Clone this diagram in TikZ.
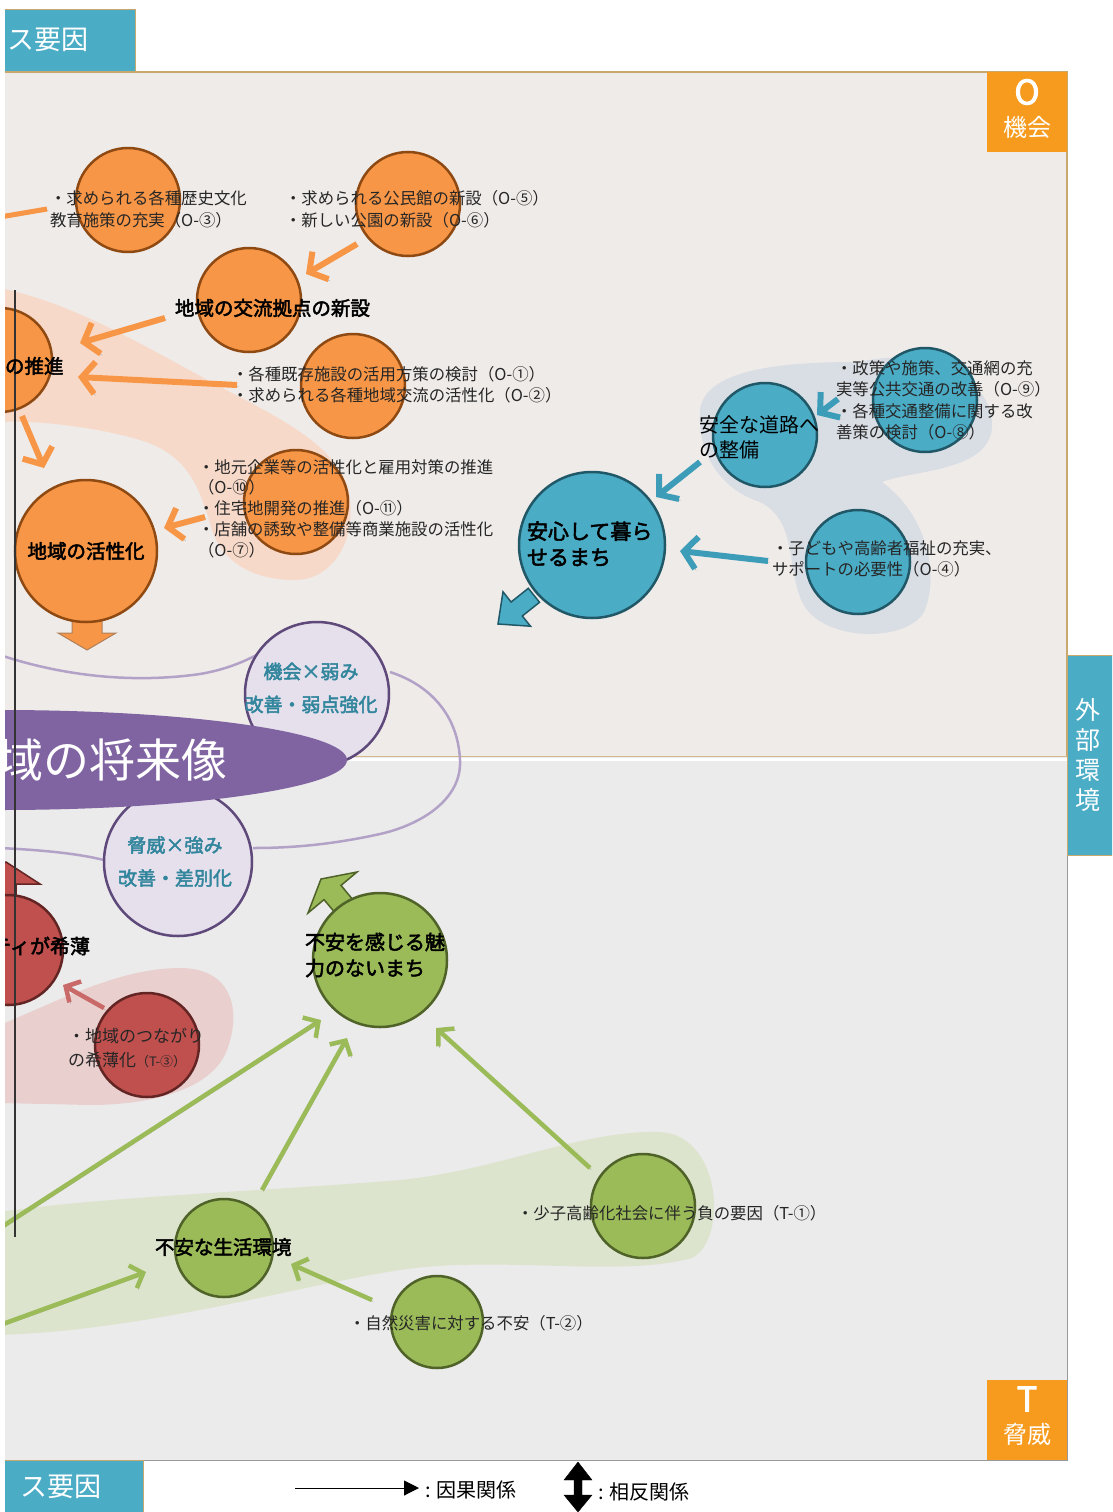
\documentclass[tikz,border=0pt]{standalone}
\usepackage{fontspec}
\setmainfont{Noto Sans CJK JP}[AutoFakeBold=2.5]
\usetikzlibrary{arrows.meta}
\definecolor{orF}{HTML}{F79646}
\definecolor{orD}{HTML}{8E4A12}
\definecolor{tlF}{HTML}{4BACC6}
\definecolor{tlD}{HTML}{205867}
\definecolor{tlA}{HTML}{3D9DB8}
\definecolor{grF}{HTML}{9BBB59}
\definecolor{grD}{HTML}{4F6228}
\definecolor{rdF}{HTML}{C0504D}
\definecolor{rdD}{HTML}{632523}
\definecolor{lavF}{HTML}{E5E0EC}
\definecolor{lavD}{HTML}{5F497A}
\definecolor{lavL}{HTML}{B3A2C7}
\definecolor{lavT}{HTML}{31859C}
\definecolor{purF}{HTML}{8064A2}
\definecolor{panU}{HTML}{EFEBE9}
\definecolor{panL}{HTML}{EBEBEB}
\definecolor{boxO}{HTML}{F79B1E}
\definecolor{tanC}{HTML}{C9A86E}
\definecolor{blobO}{HTML}{F7D9C9}
\definecolor{blobG}{HTML}{D9DDE4}
\definecolor{blobR}{HTML}{E9D0CF}
\definecolor{blobGr}{HTML}{DCE4CD}
\definecolor{txtC}{HTML}{262626}
\begin{document}
\begin{tikzpicture}[x=1pt,y=-1pt,
  every node/.style={inner sep=0pt, outer sep=0pt},
  circ/.style={circle, minimum size=#1, line width=2.5pt},
  ocirc/.style={circ=#1, fill=orF, draw=orD},
  tcirc/.style={circ=#1, fill=tlF, draw=tlD},
  gcirc/.style={circ=#1, fill=grF, draw=grD},
  rcirc/.style={circ=#1, fill=rdF, draw=rdD},
  lcirc/.style={circ=#1, fill=lavF, draw=lavD},
  txt/.style={anchor=west, align=left, font=\fontsize{16.4}{21.5}\selectfont, text=txtC},
  lbl/.style={anchor=west, align=left, font=\fontsize{20}{26}\selectfont\bfseries, text=black},
  lavtxt/.style={align=center, font=\fontsize{19}{33}\selectfont\bfseries, text=lavT},
  shad/.style={preaction={draw=black!35, transform canvas={shift={(1.3pt,-1.6pt)}}}},
  oar/.style={draw=orF, line width=6pt, -{Straight Barb[length=13pt,width=32pt]}, shad},
  tar/.style={draw=tlA, line width=6pt, -{Straight Barb[length=13pt,width=32pt]}, shad},
  gar/.style={draw=grF, line width=4.5pt, -{Straight Barb[length=11pt,width=24pt]}, shad},
  rar/.style={draw=rdF!85, line width=4.5pt, -{Straight Barb[length=11pt,width=24pt]}, shad},
  boxw/.style={text=white}
]
\useasboundingbox (0,0) rectangle (1112,1512);
\fill[white] (0,0) rectangle (1112,1512);
\begin{scope}
\clip (5,0) rectangle (1112,1512);
% panels
\fill[panU] (5,72) rectangle (1067,757);
\fill[panL] (5,757) rectangle (1067,1460);
\draw[tanC,line width=1.2pt] (5,72) -- (1067,72) -- (1067,757);
\draw[white,line width=3pt] (5,759) -- (1067,759);
\draw[tanC!80,line width=1pt] (5,756.5) -- (1067,756.5);
\draw[black!40,line width=1pt] (5,1460) -- (1067,1460) -- (1067,758);

% blobs
\fill[blobO] (0,288) .. controls (80,305) and (150,350) .. (230,392) .. controls (300,428) and (345,455) .. (350,500) .. controls (355,545) and (330,580) .. (295,580) .. controls (250,580) and (222,560) .. (212,530) .. controls (200,490) and (190,455) .. (140,440) .. controls (100,428) and (40,420) .. (0,422) -- cycle;
\fill[blobG] (700,410) .. controls (705,365) and (800,362) .. (860,362) .. controls (930,345) and (995,380) .. (992,428) .. controls (988,472) and (912,470) .. (882,482) .. controls (927,515) and (940,575) .. (924,612) .. controls (907,642) and (828,642) .. (805,607) .. controls (785,575) and (800,522) .. (760,502) .. controls (722,490) and (697,455) .. cycle;
\fill[blobR] (0,1025) .. controls (60,1000) and (120,968) .. (180,968) .. controls (232,968) and (242,1010) .. (227,1050) .. controls (212,1090) and (150,1105) .. (90,1105) -- (0,1103) -- cycle;
\fill[blobGr] (0,1212) .. controls (100,1197) and (250,1192) .. (400,1180) .. controls (500,1170) and (580,1130) .. (660,1132) .. controls (722,1135) and (728,1240) .. (692,1258) .. controls (620,1278) and (500,1255) .. (400,1270) .. controls (300,1285) and (150,1330) .. (0,1335) -- cycle;

% purple curve
\draw[lavL, line width=2.5pt] (0,655) .. controls (60,675) and (130,684) .. (200,674) .. controls (235,668) and (255,656) .. (273,646);
\draw[lavL, line width=2.5pt] (390,672) .. controls (430,685) and (458,715) .. (460,760) .. controls (462,800) and (420,825) .. (380,834) .. controls (330,845) and (290,848) .. (253,848);
\draw[lavL, line width=2.5pt] (0,848) .. controls (40,850) and (75,853) .. (104,860);

% lavender circles and vision ellipse
\node[lcirc=144pt] (ow) at (317,694) {};
\node[lcirc=148pt] (ts) at (178,862) {};
\fill[purF] (0,760) ellipse [x radius=347, y radius=50];
\node[anchor=west, font=\fontsize{46}{46}\selectfont, text=white] (vision) at (-2,760) {域の将来像};
\node[lavtxt] (owt) at (311,688) {機会×弱み\\改善・弱点強化};
\node[lavtxt] (tst) at (175,861.5) {脅威×強み\\改善・差別化};

% block arrows
\filldraw[fill=orF, draw=orD!70, line width=1pt] (72,619) -- (102,619) -- (102,633) -- (116,633) -- (87,650) -- (58,633) -- (72,633) -- cycle;
\filldraw[fill=tlF, draw=tlD, line width=1.5pt] (498,624) -- (530.5,626.2) -- (522.3,616) -- (539.5,602.3) -- (528.3,588.3) -- (511.1,602) -- (503,591.8) -- cycle;
\filldraw[fill=grF, draw=grD, line width=1.5pt] (321,879) -- (357,872) -- (341,885.4) -- (353.7,900.7) -- (336.9,914.9) -- (324,899.6) -- (308,913) -- cycle;
\filldraw[fill=rdF, draw=rdD, line width=1.5pt] (-30,884) -- (6,862) -- (40,884) -- (16,884) -- (16,902) -- (-6,902) -- (-6,884) -- cycle;

% orange circles
\node[ocirc=104pt] (o3) at (128,200) {};
\node[ocirc=104pt] (o56) at (408,204) {};
\node[ocirc=104pt] (kyoten) at (249,300) {};
\node[ocirc=104pt] (suishin) at (0,360) {};
\node[ocirc=104pt] (o12) at (353,386) {};
\node[ocirc=104pt] (o10) at (296,502) {};
\node[ocirc=142pt, font=\fontsize{19.5}{24}\selectfont\bfseries] (kassei) at (86,551) {地域の活性化};

% teal circles
\node[tcirc=146pt] (anshin) at (592,545) {};
\node[tcirc=104pt] (douro) at (765,435) {};
\node[tcirc=104pt] (o98) at (925,400) {};
\node[tcirc=104pt] (o4) at (858,562) {};

% red circles
\node[rcirc=110pt] (kihaku) at (8,950) {};
\node[rcirc=104pt] (t3) at (147,1045) {};

% green circles
\node[gcirc=134pt] (fuan) at (380,960) {};
\node[gcirc=98pt] (seikatsu) at (224,1248) {};
\node[gcirc=104pt] (t1) at (643,1206) {};
\node[gcirc=92pt] (t2) at (437,1322) {};

% arrow end points
\coordinate (a1s) at (165,318); \coordinate (a1e) at (80,343);
\coordinate (a2s) at (237,385); \coordinate (a2e) at (78,377);
\coordinate (a3s) at (22,416);  \coordinate (a3e) at (44,468);
\coordinate (a4s) at (205,517); \coordinate (a4e) at (164,528);
\coordinate (a5s) at (357,244); \coordinate (a5e) at (306,274);
\coordinate (a6s) at (47,209);  \coordinate (a6e) at (0,217);
\coordinate (t1s) at (838,399); \coordinate (t1e) at (817,415);
\coordinate (t2s) at (700,462); \coordinate (t2e) at (656,497);
\coordinate (t3s) at (768,561); \coordinate (t3e) at (680,551);
\coordinate (g1s) at (590,1168); \coordinate (g1e) at (436,1028);
\coordinate (g2s) at (262,1190); \coordinate (g2e) at (347,1038);
\coordinate (g3s) at (0,1228);   \coordinate (g3e) at (321,1020);
\coordinate (g4s) at (0,1325);   \coordinate (g4e) at (146,1272);
\coordinate (g5s) at (372,1300); \coordinate (g5e) at (291,1264);
\coordinate (r1s) at (104,1008); \coordinate (r1e) at (63,985);

% arrows
\draw[oar] (a1s) -- (a1e);
\draw[oar] (a2s) -- (a2e);
\draw[oar] (a3s) -- (a3e);
\draw[oar] (a4s) -- (a4e);
\draw[oar] (a5s) -- (a5e);
\draw[draw=orF, line width=5pt, shad] (a6s) -- (a6e);
\draw[tar] (t1s) -- (t1e);
\draw[tar] (t2s) -- (t2e);
\draw[tar] (t3s) -- (t3e);
\draw[gar] (g1s) -- (g1e);
\draw[gar] (g2s) -- (g2e);
\draw[gar] (g3s) -- (g3e);
\draw[gar] (g4s) -- (g4e);
\draw[gar] (g5s) -- (g5e);
\draw[rar] (r1s) -- (r1e);

% vertical axis line
\draw[black!80, line width=1.2pt] (15,290) -- (15,1237);

% texts orange
\node[txt] (o3t) at (50,209.5) {・求められる各種歴史文化\\教育施策の充実（O-③）};
\node[txt] (o56t) at (285,209.5) {・求められる公民館の新設（O-⑤）\\・新しい公園の新設（O-⑥）};
\node[lbl, font=\fontsize{19.5}{24}\selectfont\bfseries] (kyotent) at (175,308) {地域の交流拠点の新設};
\node[lbl, font=\fontsize{19.5}{24}\selectfont\bfseries] (suishint) at (5,366) {の推進};
\node[txt] (o12t) at (232,385) {・各種既存施設の活用方策の検討（O-①）\\・求められる各種地域交流の活性化（O-②）};
\node[txt, font=\fontsize{16.4}{20.8}\selectfont] (o10t) at (198,508.5) {・地元企業等の活性化と雇用対策の推進\\（O-⑩）\\・住宅地開発の推進（O-⑪）\\・店舗の誘致や整備等商業施設の活性化\\（O-⑦）};

% texts teal
\node[lbl, font=\fontsize{21}{26}\selectfont\bfseries] (anshint) at (527,544) {安心して暮ら\\せるまち};
\node[anchor=west, align=left, font=\fontsize{20}{25}\selectfont, text=black] (dourot) at (699,437.5) {安全な道路へ\\の整備};
\node[txt] (o98t) at (836,400.5) {・政策や施策、交通網の充\\実等公共交通の改善（O-⑨）\\・各種交通整備に関する改\\善策の検討（O-⑧）};
\node[txt] (o4t) at (772,559) {・子どもや高齢者福祉の充実、\\サポートの必要性（O-④）};

% texts red
\node[lbl, anchor=east] (kihakut) at (90,946) {ティが希薄};
\node[txt, font=\fontsize{17}{24}\selectfont] (t3t) at (68,1048) {・地域のつながり\\の希薄化{\fontsize{13}{13}\selectfont（T-③）}};

% texts green
\node[lbl] (fuant) at (305,955) {不安を感じる魅\\力のないまち};
\node[lbl, font=\fontsize{19.5}{24}\selectfont\bfseries] (seikatsut) at (155,1247) {不安な生活環境};
\node[txt] (t1t) at (517,1213) {・少子高齢化社会に伴う負の要因（T-①）};
\node[txt] (t2t) at (349,1323) {・自然災害に対する不安（T-②）};

% header boxes
\node[fill=tlF, draw=tanC, line width=1pt, minimum width=132pt, minimum height=62pt, anchor=north west] (plusbox) at (3,10) {};
\node[anchor=west, font=\fontsize{27}{27}\selectfont, boxw] (plust) at (8,40) {ス要因};
\node[fill=tlF, draw=tanC, line width=1pt, minimum width=140pt, minimum height=56pt, anchor=north west] (minusbox) at (3,1460) {};
\node[anchor=west, font=\fontsize{27}{27}\selectfont, boxw] (minust) at (20,1487) {ス要因};
\node[fill=boxO, minimum width=80pt, minimum height=80pt, anchor=north west] (obox) at (987,72) {};
\node[font=\fontsize{34}{34}\selectfont\bfseries, boxw] (ot) at (1027,92) {O};
\node[font=\fontsize{24}{24}\selectfont, boxw] (okt) at (1027,127) {機会};
\node[fill=boxO, minimum width=80pt, minimum height=80pt, anchor=north west] (tbox) at (987,1380) {};
\node[font=\fontsize{34}{34}\selectfont\bfseries, boxw] (tt) at (1027,1399) {T};
\node[font=\fontsize{24}{24}\selectfont, boxw] (tkt) at (1027,1434) {脅威};
\node[fill=tlF, draw=tanC, line width=1pt, minimum width=46pt, minimum height=200pt, anchor=north west] (envbox) at (1067,655) {};
\node[align=center, font=\fontsize{25}{30}\selectfont, boxw] (envt) at (1088,755) {外\\部\\環\\境};

% legend
\coordinate (lg1) at (295,1488); \coordinate (lg2) at (419,1488);
\draw[black, line width=1pt, -{Triangle[length=15pt,width=15pt]}] (lg1) -- (lg2);
\node[anchor=west, font=\fontsize{20}{20}\selectfont, text=black] (lgt1) at (425,1490) {: 因果関係};
\filldraw[black] (578,1462) -- (592,1480) -- (582,1480) -- (582,1495) -- (592,1495) -- (578,1512) -- (564,1495) -- (574,1495) -- (574,1480) -- (564,1480) -- cycle;
\node[anchor=west, font=\fontsize{20}{20}\selectfont, text=black] (lgt2) at (598,1492) {: 相反関係};
\end{scope}
\end{tikzpicture}
\end{document}
